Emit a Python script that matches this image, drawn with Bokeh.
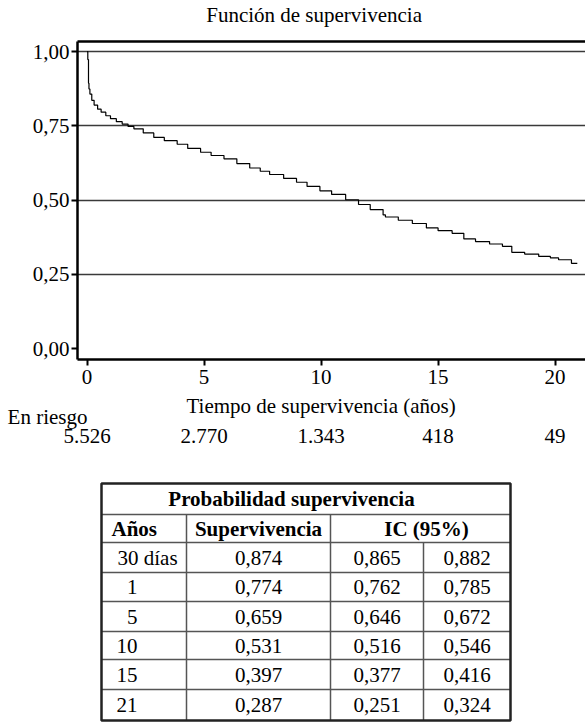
from bokeh.plotting import figure
from bokeh.models import Range1d, LinearAxis, FixedTicker, CustomJSTickFormatter, Grid
from bokeh.layouts import column
from bokeh.embed import file_html
from bokeh.resources import INLINE
from bokeh.core.properties import value

# ---------------- data ----------------
times = [0.0, 0.03, 0.06, 0.08, 0.12, 0.2, 0.3, 0.45, 0.6, 0.8, 1.0, 1.25, 1.5, 1.75, 2.0,
         2.4, 2.85, 3.3, 3.85, 4.3, 4.85, 5.3, 5.85, 6.4, 6.95, 7.4, 7.8, 8.4, 8.95, 9.4,
         9.95, 10.45, 11.05, 11.6, 12.1, 12.65, 12.75, 13.3, 13.9, 14.5, 15.0, 15.6, 16.1,
         16.6, 17.2, 17.75, 18.15, 18.7, 19.3, 19.8, 20.15, 20.7, 20.95]
surv = [1.0, 0.973, 0.893, 0.874, 0.857, 0.836, 0.820, 0.806, 0.796, 0.784, 0.774, 0.764,
        0.756, 0.748, 0.740, 0.726, 0.711, 0.700, 0.688, 0.674, 0.661, 0.650, 0.639, 0.623,
        0.608, 0.597, 0.586, 0.573, 0.560, 0.546, 0.531, 0.519, 0.501, 0.485, 0.468, 0.450,
        0.443, 0.432, 0.421, 0.406, 0.397, 0.388, 0.369, 0.360, 0.352, 0.344, 0.324, 0.318,
        0.310, 0.305, 0.299, 0.287, 0.287]

x_ticks = [0, 5, 10, 15, 20]
y_ticks = [0.0, 0.25, 0.5, 0.75, 1.0]
grid_ticks = [0.25, 0.5, 0.75, 1.0]

chart_title = "Función de supervivencia"
x_label = "Tiempo de supervivencia (años)"
risk_label = "En riesgo"
risk_years = [0, 5, 10, 15, 20]
risk_counts = ["5.526", "2.770", "1.343", "418", "49"]

table_title = "Probabilidad supervivencia"
table_header = ["Años", "Supervivencia", "IC (95%)"]
table_years = ["30 días", "1", "5", "10", "15", "21"]
table_surv = ["0,874", "0,774", "0,659", "0,531", "0,397", "0,287"]
table_lo = ["0,865", "0,762", "0,646", "0,516", "0,377", "0,251"]
table_hi = ["0,882", "0,785", "0,672", "0,546", "0,416", "0,324"]

# ---------------- styling / layout ----------------
FONT = "Liberation Serif"
FS = "21px"
W = 585
LEFT = 77
H_T, H_1, H_R = 36, 358, 58
H_2 = 723 - H_T - H_1 - H_R
mid_x = (x_ticks[0] + x_ticks[-1]) / 2

xr = Range1d(-0.41, 21.30)


def bare(height, y_range, x_range, bottom=0):
    f = figure(width=W, height=height, output_backend="svg", toolbar_location=None,
               x_range=x_range, y_range=y_range, title=None,
               min_border_left=LEFT, min_border_right=0, min_border_top=0,
               min_border_bottom=bottom, x_axis_type=None, y_axis_type=None)
    f.outline_line_color = None
    f.grid.visible = False
    return f


# ---- title strip ----
ft = bare(H_T, Range1d(H_T, 0), xr)
ft.text(x=[mid_x], y=[14], text=[chart_title], x_offset=-7, text_font=value(FONT),
        text_font_size=value(FS), text_align="center", text_baseline="middle",
        text_color="black")

# ---- survival chart ----
p = figure(width=W, height=H_1, output_backend="svg", toolbar_location=None,
           x_range=xr, y_range=Range1d(-0.037, 1.034), title=None,
           min_border_left=LEFT, min_border_right=0, min_border_top=5,
           min_border_bottom=35, x_axis_type=None, y_axis_type=None)
p.outline_line_color = None

yax = LinearAxis(ticker=FixedTicker(ticks=y_ticks),
                 formatter=CustomJSTickFormatter(code="return tick.toFixed(2).replace('.', ',')"))
yax.axis_line_width = 2.5
yax.axis_line_color = "black"
yax.major_tick_out = 6
yax.major_tick_in = 0
yax.major_tick_line_width = 2
yax.minor_tick_line_color = None
yax.major_label_text_font = FONT
yax.major_label_text_font_size = FS
yax.major_label_text_color = "black"
yax.major_label_standoff = 2
p.add_layout(yax, "left")

xax = LinearAxis(ticker=FixedTicker(ticks=x_ticks))
xax.axis_line_width = 2.5
xax.axis_line_color = "black"
xax.major_tick_out = 6
xax.major_tick_in = 0
xax.major_tick_line_width = 2
xax.minor_tick_line_color = None
xax.major_label_text_font = FONT
xax.major_label_text_font_size = FS
xax.major_label_text_color = "black"
xax.major_label_standoff = 4
p.add_layout(xax, "below")

top = LinearAxis(ticker=FixedTicker(ticks=[]))
top.axis_line_width = 2.5
top.axis_line_color = "black"
top.major_tick_line_color = None
top.minor_tick_line_color = None
top.major_tick_out = 0
top.major_tick_in = 0
top.major_label_standoff = 0
top.major_label_text_font_size = "0px"
p.add_layout(top, "above")

g = Grid(dimension=1, ticker=FixedTicker(ticks=grid_ticks))
g.grid_line_color = "#3a3a3a"
g.grid_line_width = 1.5
p.add_layout(g)

p.step(times, surv, mode="after", line_color="black", line_width=1.2)

# ---- axis label + at-risk row ----
r_top = H_T + H_1
r_bottom = r_top + H_R - 26
fr = bare(H_R, Range1d(r_bottom, r_top), xr, bottom=26)
fr.text(x=[mid_x], y=[405], text=[x_label], text_font=value(FONT), text_font_size=value(FS),
        text_align="center", text_baseline="middle", text_color="black")

lax = LinearAxis(ticker=FixedTicker(ticks=[416]),
                 formatter=CustomJSTickFormatter(args=dict(lbl=risk_label), code="return lbl"))
lax.axis_line_color = None
lax.major_tick_line_color = None
lax.minor_tick_line_color = None
lax.major_tick_out = 0
lax.major_tick_in = 0
lax.major_label_standoff = -10
lax.major_label_text_font = FONT
lax.major_label_text_font_size = FS
lax.major_label_text_color = "black"
fr.add_layout(lax, "left")

rax = LinearAxis(ticker=FixedTicker(ticks=risk_years),
                 formatter=CustomJSTickFormatter(args=dict(yrs=risk_years, cnts=risk_counts),
                                                 code="return cnts[yrs.indexOf(tick)]"))
rax.axis_line_color = None
rax.major_tick_line_color = None
rax.minor_tick_line_color = None
rax.major_tick_out = 0
rax.major_tick_in = 0
rax.major_label_standoff = 2
rax.major_label_text_font = FONT
rax.major_label_text_font_size = FS
rax.major_label_text_color = "black"
fr.add_layout(rax, "below")

# ---- table ----
t_top = H_T + H_1 + H_R
t = bare(H_2, Range1d(723, t_top), Range1d(LEFT, W))

col_edges = [101, 186, 330, 423, 510]
row_edges = [483, 514, 542, 572, 601, 631, 659, 689, 720]

hy = row_edges[1:-1]
t.segment(x0=[col_edges[0]] * len(hy), x1=[col_edges[-1]] * len(hy), y0=hy, y1=hy,
          line_color="#555555", line_width=1.5)
t.segment(x0=col_edges[1:4], x1=col_edges[1:4],
          y0=[row_edges[1], row_edges[1], row_edges[2]],
          y1=[row_edges[-1]] * 3, line_color="#555555", line_width=1.5)
t.quad(left=[col_edges[0]], right=[col_edges[-1]], top=[row_edges[0]], bottom=[row_edges[-1]],
       fill_color=None, line_color="#222222", line_width=2.5)

t.text(x=[291], y=[(row_edges[0] + row_edges[1]) / 2], text=[table_title],
       text_font=value(FONT), text_font_size=value(FS), text_font_style=value("bold"),
       text_align="center", text_baseline="middle", text_color="black")
hy_c = (row_edges[1] + row_edges[2]) / 2
t.text(x=[col_edges[0] + 10], y=[hy_c], text=[table_header[0]], text_font=value(FONT),
       text_font_size=value(FS), text_font_style=value("bold"), text_align="left",
       text_baseline="middle", text_color="black")
t.text(x=[(col_edges[1] + col_edges[2]) / 2, 426], y=[hy_c, hy_c], text=table_header[1:],
       text_font=value(FONT), text_font_size=value(FS), text_font_style=value("bold"),
       text_align="center", text_baseline="middle", text_color="black")

rc = [(row_edges[i] + row_edges[i + 1]) / 2 for i in range(2, len(row_edges) - 1)]
yr_x = [col_edges[0] + 16 if len(s) > 2 else col_edges[0] + 36 for s in table_years]
yr_align = ["left" if len(s) > 2 else "right" for s in table_years]
t.text(x=yr_x, y=rc, text=table_years, text_font=value(FONT), text_font_size=value(FS),
       text_align=yr_align, text_baseline="middle", text_color="black")
for vals, (a, b) in zip([table_surv, table_lo, table_hi],
                        [(col_edges[1], col_edges[2]), (col_edges[2], col_edges[3]),
                         (col_edges[3], col_edges[4])]):
    t.text(x=[(a + b) / 2] * len(vals), y=rc, text=vals, text_font=value(FONT),
           text_font_size=value(FS), text_align="center", text_baseline="middle",
           text_color="black")

layout = column(ft, p, fr, t, spacing=0)
open("out.html", "w").write(file_html(layout, INLINE))
